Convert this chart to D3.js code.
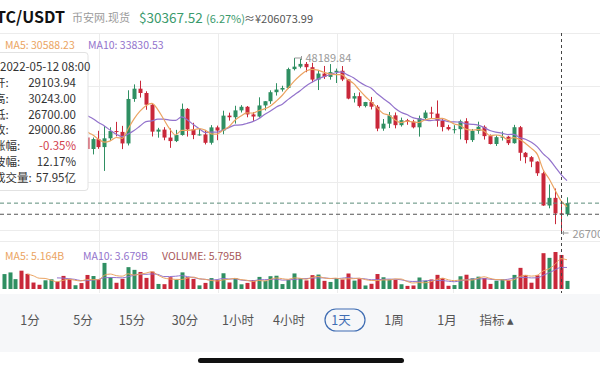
<!DOCTYPE html>
<html>
<head>
<meta charset="utf-8">
<script src="https://cdn.jsdelivr.net/npm/d3@7"></script>
<style>
body { margin: 0; background: #fff; overflow: hidden; }
svg { display: block; font-family: "Noto Sans CJK SC", "Noto Sans", sans-serif; }
</style>
</head>
<body>
<div id="chart"></div>
<script>
// BTC/USDT daily candles, 2022-02-07 .. 2022-05-13
var opens = [42412,43840,44118,44338,43565,42407,42244,42197,42586,44575,43961,40538,40004,40122,38431,37017,38230,37250,38328,39219,
  39116,37699,43160,44421,43892,42454,39148,39397,38420,37988,38731,41941,39422,38730,38807,37778,39671,39280,41114,40917,
  41757,42201,41262,41002,42364,42882,43991,44313,44511,46828,47128,47466,47062,45538,46281,45868,46453,46622,45555,43207,
  43503,42287,42782,42207,39521,40127,41148,39942,40552,40378,39678,40801,41494,41358,40480,39709,39441,39450,40427,38112,
  39235,39742,38596,37630,38469,38526,37729,39690,36552,36014,35468,34038,30076,31017,29103.94,29000.86];
var highs = [44500,45492,44799,45822,43920,43000,42760,42876,44775,44585,44164,40959,40444,40150,39494,38429,39249,39843,39683,40348,
  39855,44225,44950,45400,44102,42527,39613,39693,39547,39362,42594,42039,40236,39486,39310,39947,39887,41718,41478,42325,
  42400,42296,41544,43361,42893,44220,45094,44786,46999,48189.84,48097,47700,47600,46720,47213,47444,46890,47200,45555,43900,
  43970,42800,43410,42415,40699,41561,41500,40870,40709,40595,41116,41760,42199,42976,40795,39980,39940,40617,40797,39474,
  40372,39921,38795,38675,39167,38627,39980,39845,36650,36146,35510,34243,32659,32163,30243,31083];
var lows = [41645,42666,43117,43187,42000,41748,41870,41571,42428,43311,40073,39450,39639,38000,36800,36350,37036,34322,38014,38573,
  37000,37450,42809,43334,41832,38550,38407,38088,37155,37867,38656,38539,38223,38660,37578,37555,38098,38828,40500,40135,
  41499,40911,40467,40875,41751,42560,43579,44072,44422,46664,46930,46445,45200,44255,45620,45530,45118,45353,43121,42727,
  42107,42125,41868,39200,39254,39588,39551,39766,39991,39546,38536,40571,40820,39751,39177,39285,38929,38200,37702,37881,
  38881,38175,37578,37386,38053,37500,37670,35571,35258,34785,33713,30033,29730,27785,26700,28751];
var closes = [43840,44118,44338,43565,42407,42244,42197,42586,44575,43961,40538,40004,40122,38431,37017,38230,37250,38327,39219,39116,
  37699,43160,44421,43892,42454,39148,39397,38420,37988,38730,41941,39422,38730,38807,37778,39671,39280,41114,40917,41757,
  42201,41262,41002,42364,42882,43991,44313,44511,46827,47128,47465,47062,45538,46281,45868,46453,46622,45555,43207,43503,
  42287,42782,42207,39521,40127,41148,39942,40552,40378,39678,40801,41494,41358,40480,39709,39441,39450,40427,38112,39235,
  39742,38596,37630,38468,38525,37729,39690,36552,36014,35468,34038,30076,31017,29104,29000.86,30367.52];
// quote volume, billions of USDT
var volumes = [2.54,2.82,1.68,3.12,2.58,1.10,0.72,1.48,1.65,1.23,2.23,1.73,0.64,1.01,2.39,2.21,1.67,4.44,2.02,1.06,
  1.73,3.72,3.26,2.90,1.89,2.96,0.86,0.82,2.00,1.58,2.83,2.00,1.72,0.62,1.04,1.86,1.56,2.68,1.11,1.85,
  0.80,1.04,1.52,2.06,1.40,2.18,2.26,0.84,1.55,2.65,1.80,1.46,2.36,2.46,1.39,1.20,1.84,1.62,2.64,1.43,
  1.68,0.60,0.89,2.55,2.00,1.62,1.54,0.81,0.53,0.60,1.96,1.40,1.62,2.41,1.84,0.55,0.67,2.17,2.43,1.82,
  2.10,1.87,0.87,1.41,1.66,1.50,2.40,3.60,2.40,1.07,2.32,6.10,5.30,6.30,5.795,1.38];

var crossIndex = 94;  // 2022-05-12
var tipLabels = ["开:", "高:", "低:", "收:", "涨幅:", "波幅:", "成交量:"];
var tipValues = ["29103.94", "30243.00", "26700.00", "29000.86", "-0.35%", "12.17%", "57.95亿"];
var tabs = ["1分", "5分", "15分", "30分", "1小时", "4小时", "1天", "1周", "1月", "指标 ▴"];
var tabX = [30, 83, 132, 185, 238, 289, 341, 394, 447, 497];

var svgWidth = 600;
var svgHeight = 369;
var green = "#2f8f62", red = "#c9283a", maColor5 = "#eba462", maColor10 = "#9373cc";

var svg = d3.select("#chart").append("svg")
  .attr("width", svgWidth)
  .attr("height", svgHeight);

// simple moving average
function movingAvg(arr, n) {
  return arr.map(function(d, i) {
    if (i < n - 1) return null;
    return d3.mean(arr.slice(i - n + 1, i + 1));
  });
}

var xScale = d3.scaleLinear().domain([0, closes.length - 1]).range([3.6, 567]);
var yScale = d3.scaleLinear().domain([26700, 48189.84]).range([233, 58]);
var vScale = d3.scaleLinear().domain([0, 6.3]).range([289, 252]);

// header
svg.append("text").attr("x", 65).attr("y", 23).attr("text-anchor", "end")
  .attr("font-size", 16).attr("font-weight", "bold").attr("fill", "#111").text("BTC/USDT");
svg.append("text").attr("x", 72).attr("y", 22).attr("font-size", 11).attr("fill", "#9a9a9a").text("币安网.现货");
svg.append("text").attr("x", 139).attr("y", 23).attr("font-size", 13.5).attr("fill", "#3a9a6c").text("$30367.52");
svg.append("text").attr("x", 206).attr("y", 23).attr("font-size", 11).attr("fill", "#3a9a6c").text("(6.27%)");
svg.append("text").attr("x", 244).attr("y", 23).attr("font-size", 11).attr("fill", "#555").text("≈¥206073.99");

// grid
var grid = svg.append("g").attr("stroke", "#ececec").attr("stroke-width", 1);
grid.append("line").attr("x1", 0).attr("x2", svgWidth).attr("y1", 33.5).attr("y2", 33.5);
[86, 134, 182, 230].forEach(function(y) {
  grid.append("line").attr("x1", 0).attr("x2", svgWidth).attr("y1", y + 0.5).attr("y2", y + 0.5);
});
grid.append("line").attr("x1", 0).attr("x2", svgWidth).attr("y1", 241.5).attr("y2", 241.5);
[99, 218, 337, 453].forEach(function(x) {
  grid.append("line").attr("x1", x + 0.5).attr("x2", x + 0.5).attr("y1", 33).attr("y2", 293);
});

// candles
var candles = svg.append("g").selectAll("g")
  .data(closes)
  .enter()
  .append("g");
candles.append("line")
  .attr("x1", (d, i) => Math.round(xScale(i)) + 0.5)
  .attr("x2", (d, i) => Math.round(xScale(i)) + 0.5)
  .attr("y1", (d, i) => yScale(highs[i]))
  .attr("y2", (d, i) => yScale(lows[i]))
  .attr("stroke", (d, i) => closes[i] >= opens[i] ? green : red);
candles.append("rect")
  .attr("x", (d, i) => Math.round(xScale(i)) - 1.5)
  .attr("width", 4)
  .attr("y", (d, i) => yScale(Math.max(opens[i], closes[i])))
  .attr("height", (d, i) => Math.max(1, Math.abs(yScale(opens[i]) - yScale(closes[i]))))
  .attr("fill", (d, i) => closes[i] >= opens[i] ? green : red);

// MA lines
var priceLine = d3.line()
  .defined(d => d != null)
  .x((d, i) => xScale(i))
  .y(d => yScale(d))
  .curve(d3.curveMonotoneX);
svg.append("path").datum(movingAvg(closes, 10)).attr("d", priceLine)
  .attr("fill", "none").attr("stroke", maColor10).attr("stroke-width", 1.2);
svg.append("path").datum(movingAvg(closes, 5)).attr("d", priceLine)
  .attr("fill", "none").attr("stroke", maColor5).attr("stroke-width", 1.2);

// volume bars
svg.append("g").selectAll("rect")
  .data(volumes)
  .enter()
  .append("rect")
  .attr("x", (d, i) => Math.round(xScale(i)) - 1.5)
  .attr("width", 4)
  .attr("y", d => vScale(d))
  .attr("height", d => vScale(0) - vScale(d))
  .attr("fill", (d, i) => closes[i] >= opens[i] ? green : red);

var volLine = d3.line()
  .defined(d => d != null)
  .x((d, i) => xScale(i))
  .y(d => vScale(d))
  .curve(d3.curveMonotoneX);
svg.append("path").datum(movingAvg(volumes, 10)).attr("d", volLine)
  .attr("fill", "none").attr("stroke", maColor10).attr("stroke-width", 1);
svg.append("path").datum(movingAvg(volumes, 5)).attr("d", volLine)
  .attr("fill", "none").attr("stroke", maColor5).attr("stroke-width", 1);

// current price line
svg.append("line").attr("x1", 0).attr("x2", svgWidth)
  .attr("y1", yScale(closes[closes.length - 1])).attr("y2", yScale(closes[closes.length - 1]))
  .attr("stroke", "#5b8c79").attr("stroke-dasharray", "4,3");

// crosshair
var cx = Math.round(xScale(crossIndex)) + 0.5;
svg.append("line").attr("x1", cx).attr("x2", cx).attr("y1", 33).attr("y2", 293)
  .attr("stroke", "#444").attr("stroke-dasharray", "3,3");
svg.append("line").attr("x1", 0).attr("x2", svgWidth)
  .attr("y1", yScale(closes[crossIndex])).attr("y2", yScale(closes[crossIndex]))
  .attr("stroke", "#555").attr("stroke-dasharray", "4,3");

// high / low markers
var hiIdx = d3.maxIndex(highs), loIdx = d3.minIndex(lows);
var hx = Math.round(xScale(hiIdx)) + 0.5, hy = yScale(highs[hiIdx]);
svg.append("path").attr("d", `M${hx},${hy} H${hx + 7} M${hx + 7},${hy - 2} V${hy + 2}`)
  .attr("stroke", "#999").attr("fill", "none");
svg.append("text").attr("x", hx + 11).attr("y", hy + 4).attr("font-size", 11).attr("fill", "#999")
  .text(d3.format(".2f")(highs[hiIdx]));
var lx = Math.round(xScale(loIdx)) + 0.5, ly = yScale(lows[loIdx]);
svg.append("path").attr("d", `M${lx},${ly} H${lx + 7} M${lx + 2},${ly - 2} V${ly + 2}`)
  .attr("stroke", "#999").attr("fill", "none");
svg.append("text").attr("x", lx + 11).attr("y", ly + 5).attr("font-size", 11).attr("fill", "#999")
  .text(d3.format(".2f")(lows[loIdx]));

// tooltip box
svg.append("rect").attr("x", -4).attr("y", 52.5).attr("width", 92).attr("height", 138).attr("rx", 3)
  .attr("fill", "#fff").attr("stroke", "#e2e2e2");
svg.append("text").attr("x", 0).attr("y", 71).attr("font-size", 11.5).attr("fill", "#333").text("2022-05-12 08:00");
tipLabels.forEach(function(lab, i) {
  var y = 87 + i * 15.8;
  svg.append("text").attr("x", -6).attr("y", y).attr("font-size", 11.5).attr("fill", "#333").text(lab);
  svg.append("text").attr("x", 76).attr("y", y).attr("text-anchor", "end").attr("font-size", 11.5)
    .attr("fill", i == 4 ? "#d2404c" : "#333").text(tipValues[i]);
});

// legends
svg.append("text").attr("x", 5).attr("y", 49).attr("font-size", 10.5).attr("fill", maColor5).text("MA5: 30588.23");
svg.append("text").attr("x", 88).attr("y", 49).attr("font-size", 10.5).attr("fill", maColor10).text("MA10: 33830.53");
svg.append("text").attr("x", 5).attr("y", 260).attr("font-size", 10.5).attr("fill", maColor5).text("MA5: 5.164B");
svg.append("text").attr("x", 83).attr("y", 260).attr("font-size", 10.5).attr("fill", maColor10).text("MA10: 3.679B");
svg.append("text").attr("x", 162).attr("y", 260).attr("font-size", 10.5).attr("fill", "#a8585a").text("VOLUME: 5.795B");

// tab bar
svg.append("rect").attr("x", 0).attr("y", 294).attr("width", svgWidth).attr("height", 58).attr("fill", "#f6f7f9");
svg.append("rect").attr("x", 325).attr("y", 309).attr("width", 40).attr("height", 22).attr("rx", 11)
  .attr("fill", "none").attr("stroke", "#3f6db3").attr("stroke-width", 1.2);
tabs.forEach(function(t, i) {
  svg.append("text").attr("x", tabX[i]).attr("y", 325).attr("text-anchor", "middle").attr("font-size", 12.5)
    .attr("fill", i == 6 ? "#3f6db3" : "#555").text(t);
});
svg.append("rect").attr("x", 198).attr("y", 358).attr("width", 206).attr("height", 5).attr("rx", 2.5).attr("fill", "#111");
</script>
</body>
</html>
